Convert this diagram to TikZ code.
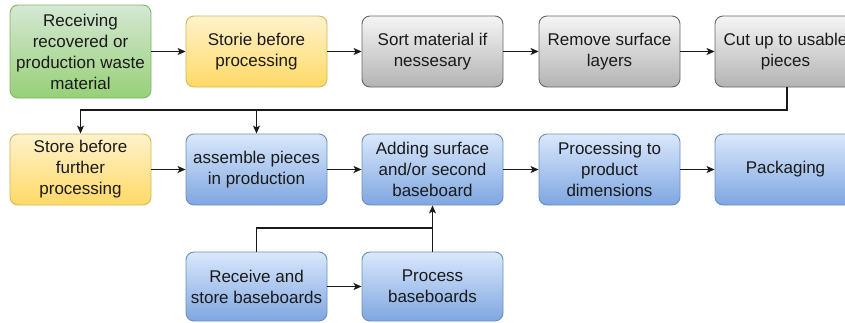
\documentclass[tikz,border=0pt]{standalone}
\usepackage{fontspec}
\setmainfont{Liberation Sans}
\usetikzlibrary{arrows.meta}
\definecolor{grnT}{HTML}{D5E8D4}
\definecolor{grnB}{HTML}{97D077}
\definecolor{grnD}{HTML}{82B366}
\definecolor{ylwT}{HTML}{FFF2CC}
\definecolor{ylwB}{HTML}{FFD966}
\definecolor{ylwD}{HTML}{D6B656}
\definecolor{gryT}{HTML}{F5F5F5}
\definecolor{gryB}{HTML}{B3B3B3}
\definecolor{gryD}{HTML}{666666}
\definecolor{bluT}{HTML}{DAE8FC}
\definecolor{bluB}{HTML}{7EA6E0}
\definecolor{bluD}{HTML}{6C8EBF}
\definecolor{ink}{HTML}{1A1A1A}
\tikzset{
  stepbox/.style={rounded corners=8pt, line width=0.9pt, minimum width=141pt,
    minimum height=71pt, inner sep=0pt, align=center, text=ink,
    font=\fontsize{17}{21}\selectfont},
  greenbox/.style={stepbox, draw=grnD, top color=grnT, bottom color=grnB},
  yellowbox/.style={stepbox, draw=ylwD, top color=ylwT, bottom color=ylwB},
  graybox/.style={stepbox, draw=gryD, top color=gryT, bottom color=gryB},
  bluebox/.style={stepbox, draw=bluD, top color=bluT, bottom color=bluB},
  flow/.style={line width=1.1pt, draw=ink, -{Stealth[length=8pt,width=7pt,inset=2pt]}},
  plainline/.style={line width=1.1pt, draw=ink}
}
\begin{document}
\begin{tikzpicture}[x=1pt,y=-1pt]
\useasboundingbox (0,0) rectangle (845,322);

% first row: intake and preparation
\node[greenbox, minimum height=93pt] (recv) at (80.5,51.5) {Receiving\\recovered or\\production waste\\material};
\node[yellowbox] (store1) at (256.5,51.5) {Storie before\\processing};
\node[graybox] (sort) at (432.5,51.5) {Sort material if\\nessesary};
\node[graybox] (remove) at (609.5,51.5) {Remove surface\\layers};
\node[graybox] (cut) at (785.5,51.5) {Cut up to usable\\pieces};

% second row: production
\node[yellowbox] (store2) at (80.5,169.5) {Store before\\further\\processing};
\node[bluebox] (assemble) at (256.5,169.5) {assemble pieces\\in production};
\node[bluebox] (adding) at (432.5,169.5) {Adding surface\\and/or second\\baseboard};
\node[bluebox] (procdim) at (609.5,169.5) {Processing to\\product\\dimensions};
\node[bluebox] (pack) at (785.5,169.5) {Packaging};

% third row: baseboards
\node[bluebox, minimum height=69pt] (rcvbb) at (256.5,286.5) {Receive and\\store baseboards};
\node[bluebox, minimum height=69pt] (procbb) at (432.5,286.5) {Process\\baseboards};

% row connectors
\draw[flow] (recv) -- (store1);
\draw[flow] (store1) -- (sort);
\draw[flow] (sort) -- (remove);
\draw[flow] (remove) -- (cut);
\draw[flow] (store2) -- (assemble);
\draw[flow] (assemble) -- (adding);
\draw[flow] (adding) -- (procdim);
\draw[flow] (procdim) -- (pack);
\draw[flow] (rcvbb) -- (procbb);

% return line from cutting to the second row
\coordinate (split) at (80.5,110);
\draw[flow] ([xshift=1.5pt]cut.south) |- (split) -- (store2.north);
\draw[flow] (assemble.north |- split) -- (assemble.north);

% baseboards merge into the surface step
\coordinate (merge) at (432.5,228);
\draw[plainline] (rcvbb.north) |- (merge);
\draw[flow] (procbb.north) -- (adding.south);
\end{tikzpicture}
\end{document}
